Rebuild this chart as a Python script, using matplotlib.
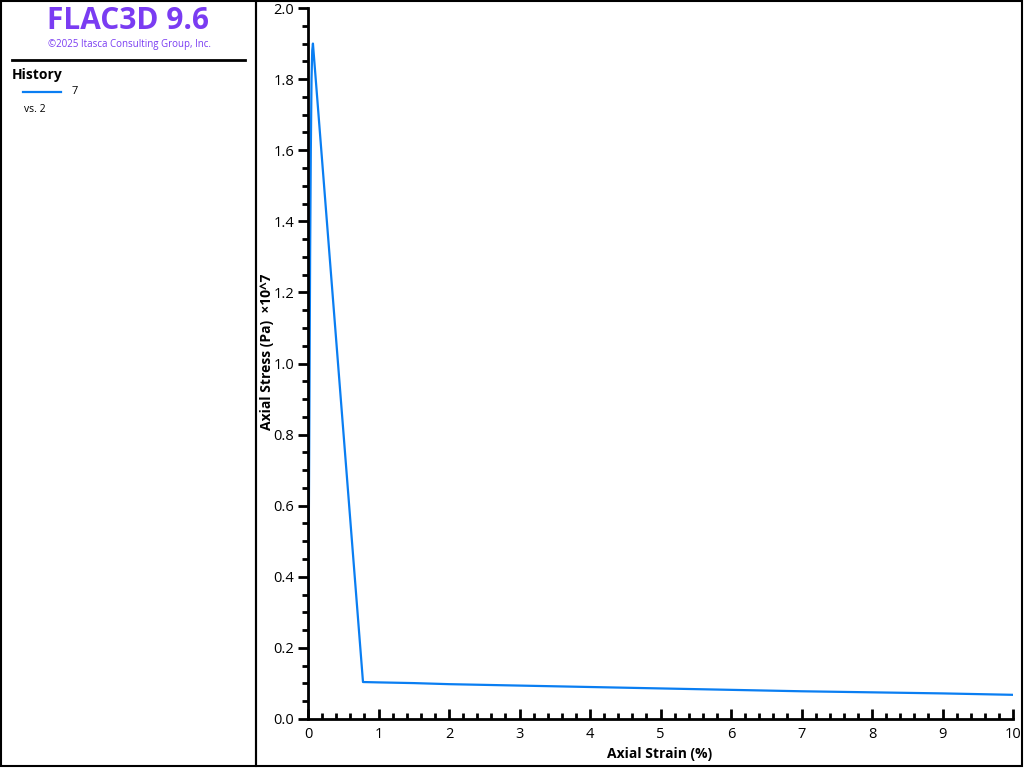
import matplotlib
matplotlib.use("Agg")
import matplotlib.pyplot as plt
from matplotlib.patches import Rectangle
from matplotlib.lines import Line2D
from matplotlib.ticker import MultipleLocator, FormatStrFormatter

plt.rcParams['font.family'] = ['Open Sans', 'DejaVu Sans']

# Data: axial strain (%) vs axial stress (x10^7 Pa)
strain = [0.0, 0.005, 0.01, 0.02, 0.03, 0.04, 0.05, 0.06, 0.07,
          0.78,
          1.0, 1.5, 2.0, 3.0, 4.0, 5.0, 6.0, 7.0, 8.0, 9.0, 10.0]
stress = [0.0, 0.06, 0.48, 0.88, 1.30, 1.60, 1.80, 1.88, 1.90,
          0.104,
          0.103, 0.101, 0.098, 0.094, 0.090, 0.086, 0.082, 0.078, 0.075, 0.072, 0.068]

x_ticks = [0, 1, 2, 3, 4, 5, 6, 7, 8, 9, 10]
y_ticks = [0.0, 0.2, 0.4, 0.6, 0.8, 1.0, 1.2, 1.4, 1.6, 1.8, 2.0]

W, H = 1024, 768
fig = plt.figure(figsize=(W / 100, H / 100), dpi=100)

def fx(px):
    return px / W

def fy(py):
    return 1 - py / H

# Panel borders
fig.patches.append(Rectangle((fx(1), fy(766)), fx(255), 765 / H, transform=fig.transFigure,
                             fill=False, edgecolor='black', linewidth=1.5))
fig.patches.append(Rectangle((fx(256), fy(766)), fx(766), 765 / H, transform=fig.transFigure,
                             fill=False, edgecolor='black', linewidth=1.5))

# Left panel texts
fig.text(fx(128), fy(21), "FLAC3D 9.6", ha='center', va='center', fontsize=21.5,
         fontweight='bold', color='#7a3cf2')
fig.text(fx(129), fy(45), "©2025 Itasca Consulting Group, Inc.", ha='center', va='center',
         fontsize=7, color='#7a3cf2')
fig.lines.append(Line2D([fx(12), fx(245)], [fy(60), fy(60)], transform=fig.transFigure,
                        color='black', linewidth=2))
fig.text(fx(12), fy(75), "History", ha='left', va='center', fontsize=10, fontweight='bold')
fig.lines.append(Line2D([fx(23), fx(61)], [fy(92), fy(92)], transform=fig.transFigure,
                        color='#0a7ef2', linewidth=1.6))
fig.text(fx(72), fy(92), "7", ha='left', va='center', fontsize=8)
fig.text(fx(24), fy(109), "vs. 2", ha='left', va='center', fontsize=7.5)

# Main axes
ax = fig.add_axes([fx(308), fy(719), (1013 - 308) / W, (719 - 8) / H])
ax.plot(strain, stress, color='#0a7ef2', linewidth=1.6)
ax.set_xlim(0, 10)
ax.set_ylim(0, 2.0)
ax.set_xticks(x_ticks)
ax.set_yticks(y_ticks)
ax.xaxis.set_minor_locator(MultipleLocator(0.2))
ax.yaxis.set_minor_locator(MultipleLocator(0.05))
ax.yaxis.set_major_formatter(FormatStrFormatter('%.1f'))
ax.xaxis.set_major_formatter(FormatStrFormatter('%d'))
for s in ['top', 'right']:
    ax.spines[s].set_visible(False)
for s in ['left', 'bottom']:
    ax.spines[s].set_linewidth(2)
ax.tick_params(axis='y', which='major', direction='out', length=7, width=2, labelsize=10.5, pad=3)
ax.tick_params(axis='y', which='minor', direction='out', length=4, width=2)
ax.tick_params(axis='x', which='major', direction='in', length=7, width=2, labelsize=10.5, pad=6)
ax.tick_params(axis='x', which='minor', direction='in', length=4, width=2)
ax.patch.set_alpha(0)

fig.text(fx(660), fy(754), "Axial Strain (%)", ha='center', va='center',
         fontsize=10, fontweight='bold')
fig.text(fx(267), fy(352), "Axial Stress (Pa)  ×10^7", ha='center', va='center',
         rotation=90, fontsize=10, fontweight='bold')

fig.savefig("out.png", dpi=100)
